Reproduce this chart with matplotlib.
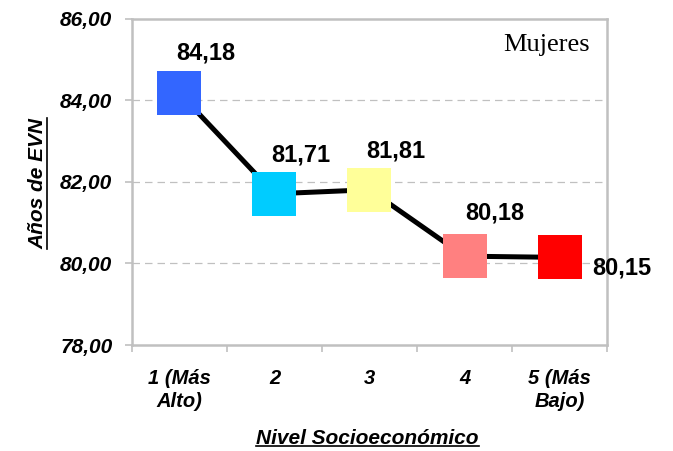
import matplotlib
matplotlib.use("Agg")
import matplotlib.pyplot as plt
from matplotlib.lines import Line2D

categories = ["1 (Más\nAlto)", "2", "3", "4", "5 (Más\nBajo)"]
values = [84.18, 81.71, 81.81, 80.18, 80.15]
value_labels = ["84,18", "81,71", "81,81", "80,18", "80,15"]
colors = ["#3366FF", "#00CCFF", "#FFFF99", "#FF8080", "#FF0000"]
yticks = [78, 80, 82, 84, 86]
ytick_labels = ["78,00", "80,00", "82,00", "84,00", "86,00"]

plt.rcParams['font.family'] = ['Liberation Sans', 'DejaVu Sans']

fig = plt.figure(figsize=(6.73, 4.51), dpi=100)
ax = fig.add_axes([0.196, 0.235, 0.706, 0.723])

x = list(range(len(values)))
ax.plot(x, values, color="black", linewidth=3.6, zorder=2)
for xi, v, c in zip(x, values, colors):
    ax.plot(xi, v, marker="s", markersize=32, color=c, markeredgewidth=0, zorder=3)

# value labels (offsets in points)
offsets = [(19, 29), (19, 28), (19, 28), (22, 31), (45, -8)]
for xi, v, lab, off in zip(x, values, value_labels, offsets):
    ax.annotate(lab, (xi, v), xytext=off, textcoords="offset points",
                ha="center", va="center", fontsize=17, fontweight="bold")

ax.set_xlim(-0.5, 4.5)
ax.set_ylim(78, 86)
ax.set_yticks(yticks)
ax.set_yticklabels(ytick_labels, fontsize=15, fontweight="bold", fontstyle="italic")
ax.set_xticks(x)
ax.set_xticklabels(categories, fontsize=14.5, fontweight="bold", fontstyle="italic",
                   linespacing=1.3)
ax.set_xticks([i - 0.5 for i in range(len(values) + 1)], minor=True)
ax.tick_params(axis="x", which="major", length=0, pad=17)
ax.tick_params(axis="x", which="minor", length=5, color="#C0C0C0", width=1.2)
ax.tick_params(axis="y", length=5, color="#C0C0C0", width=1.2, pad=9)

for y in [80, 82, 84]:
    ax.axhline(y, color="#C0C0C0", linestyle=(0, (6, 4)), linewidth=0.9, zorder=1)

for s in ax.spines.values():
    s.set_color("#C0C0C0")
    s.set_linewidth(1.8)

ax.text(0.964, 0.921, "Mujeres", transform=ax.transAxes, ha="right", va="center",
        fontsize=19, family="Liberation Serif")

xl = fig.text(0.546, 0.016, "Nivel Socioeconómico", ha="center", va="baseline",
              fontsize=15, fontweight="bold", fontstyle="italic")
yl = fig.text(0.056, 0.594, "Años de EVN", ha="center", va="center", rotation=90,
              fontsize=15, fontweight="bold", fontstyle="italic")

# underline the axis titles
fig.canvas.draw()
r = fig.canvas.get_renderer()
inv = fig.transFigure.inverted()
bb = xl.get_window_extent(r).transformed(inv)
fig.add_artist(Line2D([bb.x0, bb.x1], [bb.y0 + 0.004, bb.y0 + 0.004],
                      transform=fig.transFigure, color="black", linewidth=1.2))
bb = yl.get_window_extent(r).transformed(inv)
fig.add_artist(Line2D([bb.x1 - 0.001, bb.x1 - 0.001], [bb.y0, bb.y1],
                      transform=fig.transFigure, color="black", linewidth=1.2))

fig.savefig("out.png", dpi=100)
